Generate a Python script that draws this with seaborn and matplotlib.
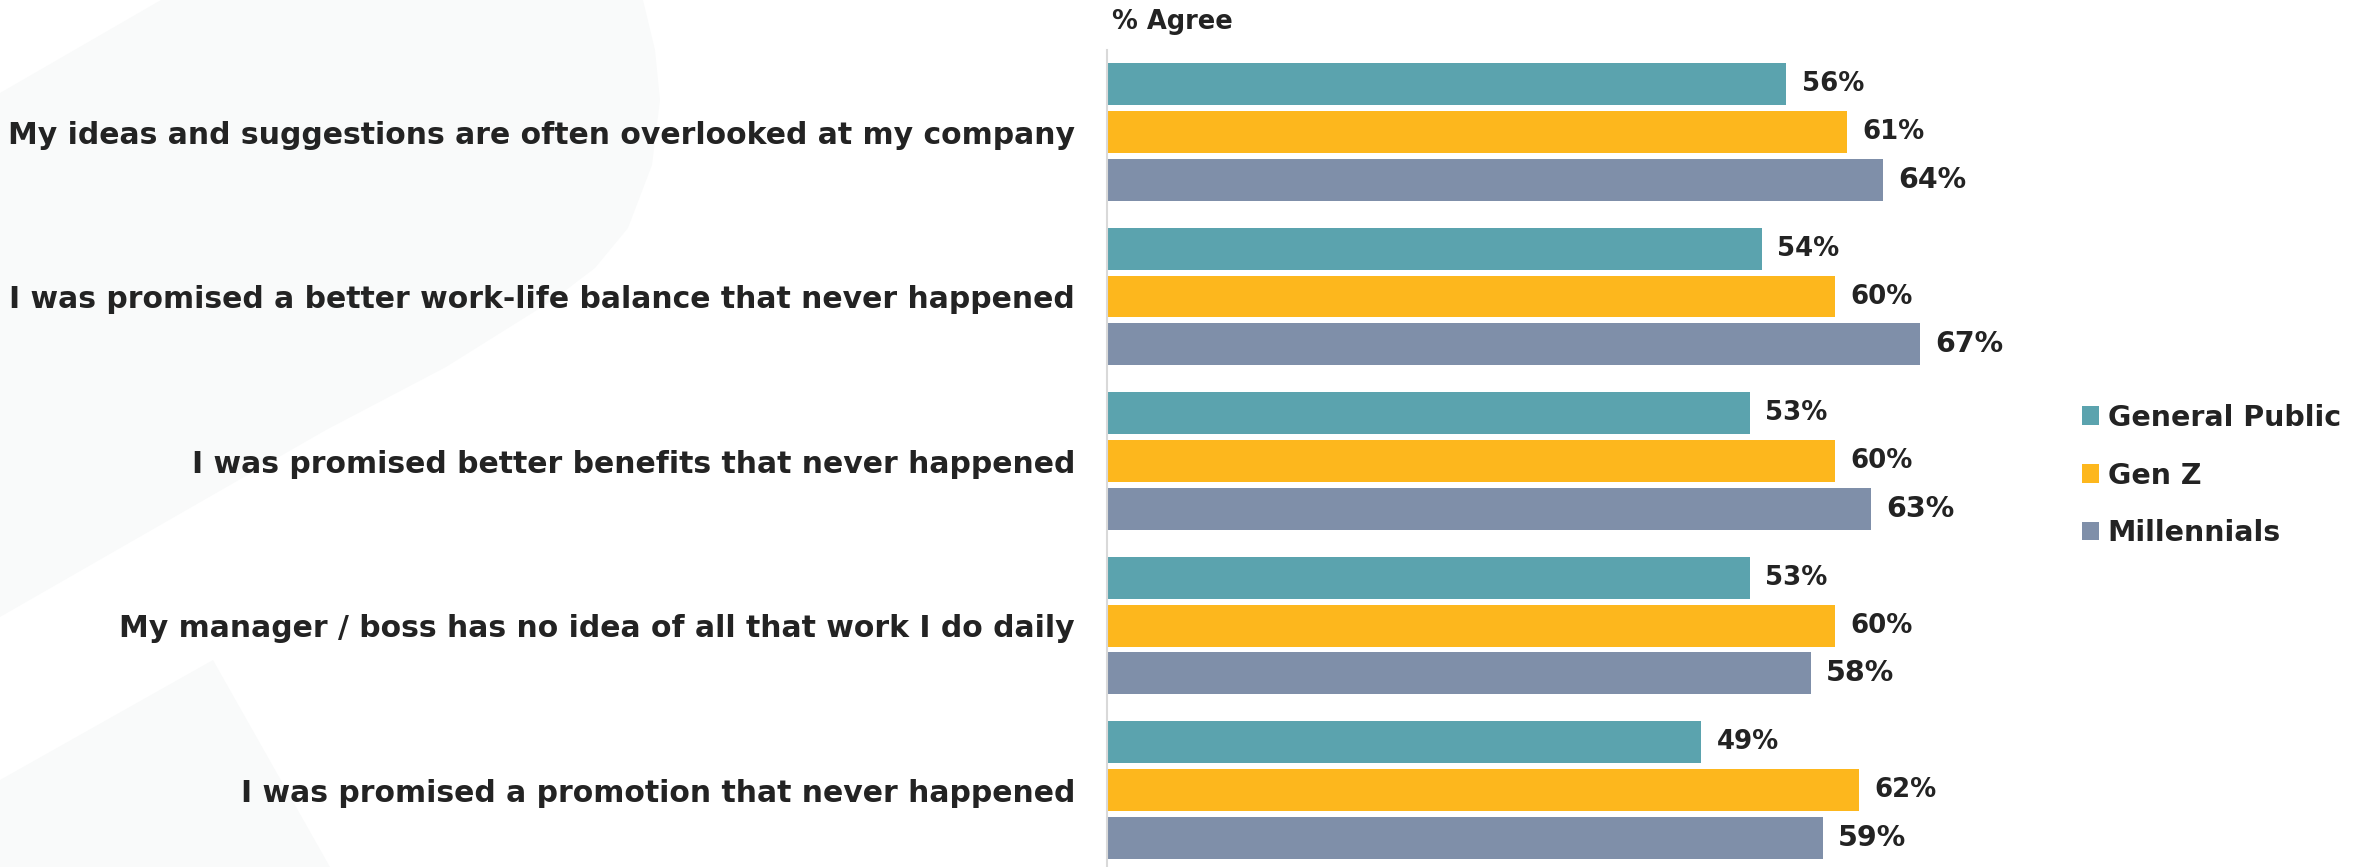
import numpy as np
import pandas as pd
import seaborn as sns
import matplotlib.pyplot as plt
from matplotlib.patches import Polygon, Patch

# ---- data -------------------------------------------------------------
statements = [
    "My ideas and suggestions are often overlooked at my company",
    "I was promised a better work-life balance that never happened",
    "I was promised better benefits that never happened",
    "My manager / boss has no idea of all that work I do daily",
    "I was promised a promotion that never happened",
]
groups = ["General Public", "Gen Z", "Millennials"]
general_public = [56, 54, 53, 53, 49]
gen_z = [61, 60, 60, 60, 62]
millennials = [64, 67, 63, 58, 59]
palette = ["#5BA3AE", "#FDB71D", "#7F8FA9"]

df = pd.DataFrame({
    "Statement": statements * 3,
    "Group": np.repeat(groups, len(statements)),
    "Agree": general_public + gen_z + millennials,
})

# ---- styling ----------------------------------------------------------
sns.set_theme(style="white")
plt.rcParams["font.family"] = ["DejaVu Sans"]
plt.rcParams["font.weight"] = "bold"
TEXT = "#232323"

W, H = 2361, 867
fig = plt.figure(figsize=(W / 100, H / 100), dpi=100)
fig.patch.set_facecolor("white")

# faint decorative shapes in the left background (pixel coords from top-left)
def px_poly(points):
    return [(x / W, 1 - y / H) for x, y in points]

upper = [(161, 0), (643, 0), (655, 50), (660, 100), (652, 165), (628, 228),
         (595, 268), (553, 300), (446, 367), (326, 430), (0, 617), (0, 93)]
lower = [(213, 660), (0, 780), (0, 867), (330, 867)]
for pts in (upper, lower):
    fig.patches.append(Polygon(px_poly(pts), closed=True, transform=fig.transFigure,
                               facecolor="#F9FAFA", edgecolor="none", zorder=-5))

ax = fig.add_axes([1107 / W, 0, 1213 / W, 817 / H])
ax.patch.set_alpha(0)

sns.barplot(data=df, y="Statement", x="Agree", hue="Group", order=statements,
            hue_order=groups, palette=palette, orient="h", width=0.875, gap=0.125,
            saturation=1, linewidth=0, legend=False, ax=ax)

ax.set_xlim(0, 100)
ax.set_ylim(4.468, -0.4985)
ax.set_xticks([])
ax.set_xlabel("")
ax.set_ylabel("")

for side in ("top", "right", "bottom"):
    ax.spines[side].set_visible(False)
ax.spines["left"].set_color("#D9D9D9")
ax.spines["left"].set_linewidth(1.5)

ax.tick_params(axis="y", length=0, pad=23, labelsize=21.5, labelcolor=TEXT)
for lbl in ax.get_yticklabels():
    lbl.set_fontweight("bold")

# value labels; Millennials labels are set a little larger
for cont, size in zip(ax.containers, [18.7, 18.7, 20.5]):
    ax.bar_label(cont, fmt="%d%%", padding=11, fontsize=size,
                 fontweight="bold", color=TEXT)

fig.text(1112 / W, 1 - 22 / H, "% Agree", ha="left", va="center",
         fontsize=18.5, fontweight="bold", color=TEXT)

handles = [Patch(facecolor=c, edgecolor="none") for c in palette]
fig.legend(handles, groups, loc="center left",
           bbox_to_anchor=(2082 / W, 1 - 475.5 / H), frameon=False,
           borderpad=0, borderaxespad=0,
           handlelength=0.61, handleheight=0.61, handletextpad=0.29,
           labelspacing=1.05, labelcolor=TEXT,
           prop={"weight": "bold", "size": 20.5})

fig.savefig("out.png", dpi=100)
